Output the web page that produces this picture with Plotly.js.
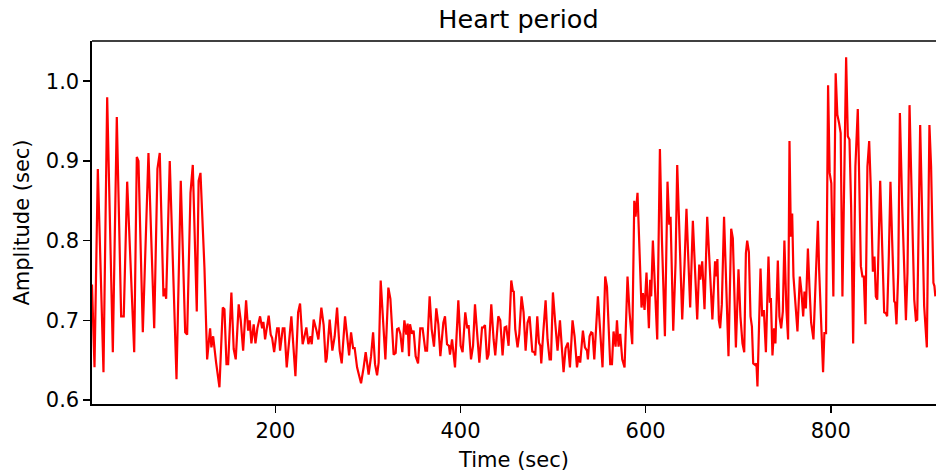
<!DOCTYPE html>
<html>
<head>
<meta charset="utf-8">
<script src="https://cdn.plot.ly/plotly-3.0.1.min.js"></script>
<style>
html,body{margin:0;padding:0;background:#fff;overflow:hidden;}
#chart{width:936px;height:472px;}
</style>
</head>
<body>
<div id="chart"></div>
<script>
const timeSec = [
1.8,4.5,8.1,14.2,18.2,24.3,28.6,33.3,36.1,39.8,47.4,50.2,52,56.7,62.8,69,72.5,75,79,80.4,81.9,85.8,93.1,97.7,102.5,104.6,108.2,110.7,115,117,119,
123.3,126.2,129.4,130.8,132.7,135.9,139.5,143.1,144.9,147.1,148.9,152.4,154.9,157.1,160.3,162.5,165.1,168.3,170.5,172.2,174,176.5,178.4,180.5,183.4,185.6,187,188.8,192.7,194.9,196.4,198.6,201.8,203.5,205,207.9,209.7,212.2,217.2,221.6,224.5,226.6,229.4,
231.4,233.4,235.6,237.8,239.2,241.3,244.2,246.4,249.6,252.1,254.3,255.4,258.6,261.5,264,266.6,269.4,271.6,275.2,277.4,279.6,281.7,283.9,285.6,288.2,289.9,292.5,295.3,297.5,300.7,303.3,305.5,307.6,309.8,311.5,313.7,316.3,318.8,322,324.2,327.7,329.9,331.4,333.1,335,337.1,339.3,341.4,342.8,344.3,
345.4,347.6,349.3,351.5,354.1,356.5,359,362,363.8,366.6,368.8,371.3,373.8,376,378.2,381.4,383.2,385.4,387.5,388.6,390.8,394,397.6,400.1,402.2,405.1,407.3,408.7,411.3,413.5,415.6,418.1,420.3,423.2,424.6,426.4,428.6,430.3,433.2,435.7,437.5,440.8,442.9,445.4,447.6,449.4,451.9,454.8,456.6,457.5,
459.1,461.6,463.5,465.9,468.1,470.3,472.4,474.6,476.1,477.5,479.7,480.7,482.9,484.7,486.2,487.2,489.4,491.9,494,496.2,497.7,499.8,502.3,504.8,507.4,508.8,511.3,513.5,516,518.2,521,523.2,525.8,527.5,529.3,532.2,534.4,536.6,537.6,539.4,541.2,542.6,544.5,548.4,550.9,553.4,556.3,558.2,561.7,563.6,565.3,567.5,569,570.7,572.5,
574.7,577.2,580.4,582.6,585.5,587.7,589.1,591.2,593.4,595.5,597,598.8,600.9,603.5,604.9,606,607.8,610,612.5,615.4,617.6,620.8,623.6,625.5,626.9,629.8,632.3,634.1,635.9,639.5,642,644.1,646,648.1,651,652.8,655.7,657.9,659,661.1,663.6,666.5,668.7,
672.1,675,676.5,677.5,679.1,680.5,682.3,684.7,687.3,689.5,692.4,694.2,697.5,700.3,702.4,704.6,706.5,708.3,709.7,711.5,713.3,714.8,716.2,718.3,719.7,720.8,724.1,725.9,727.7,729.9,732.7,734.2,735.3,737,738.8,740.2,742.8,744.5,746.4,748.2,749.9,752.1,753.9,755.4,756.9,758.3,759.7,761.6,764,766.6,768.3,770.2,771.6,773.1,775.3,777,778.8,781.3,
786.1,787.4,789.6,791.7,793.1,794.9,797.1,798.8,800.6,802.8,805.3,807.1,808.9,810.7,812.6,816.6,818.4,820.2,822,824.2,826.6,829.2,830.6,832.5,834.2,835.7,837.5,839.6,841.5,843.3,845.5,847.2,848.7,850.2,853.4,855.1,857.7,859.5,860.9,862.7,864.5,866.3,868.5,869.6,871,872.9,874.7,877.2,881.2,882.9,885.1,887.7,890.2,892,893.4,896.6,899.1,900.9,903.8,906.6,908.4,910.9,912,913
];
const heartPeriod = [
0.745,0.641,0.89,0.635,0.98,0.66,0.955,0.705,0.705,0.874,0.66,0.905,0.9,0.685,0.91,0.69,0.89,0.91,0.73,0.74,0.727,0.9,0.626,0.875,0.685,0.682,0.86,0.895,0.711,0.875,0.885,
0.766,0.651,0.69,0.666,0.68,0.647,0.616,0.716,0.714,0.645,0.645,0.735,0.664,0.651,0.72,0.70,0.662,0.725,0.687,0.70,0.671,0.695,0.671,0.69,0.705,0.69,0.698,0.676,0.706,0.682,0.678,0.66,0.69,0.69,0.662,0.69,0.69,0.641,0.705,0.63,0.71,0.721,0.67,
0.68,0.691,0.67,0.68,0.67,0.701,0.688,0.676,0.716,0.694,0.647,0.652,0.701,0.662,0.68,0.716,0.662,0.646,0.705,0.676,0.656,0.685,0.665,0.665,0.641,0.633,0.621,0.641,0.66,0.632,0.655,0.685,0.645,0.631,0.647,0.75,0.701,0.651,0.741,0.727,0.657,0.659,0.689,0.69,0.683,0.66,0.70,0.682,0.696,0.655,
0.695,0.683,0.687,0.655,0.646,0.69,0.69,0.662,0.662,0.73,0.689,0.667,0.715,0.695,0.655,0.697,0.705,0.67,0.668,0.657,0.676,0.641,0.725,0.668,0.66,0.71,0.69,0.694,0.651,0.668,0.72,0.676,0.647,0.691,0.691,0.694,0.651,0.657,0.72,0.676,0.656,0.705,0.70,0.656,0.691,0.692,0.668,0.75,0.736,0.737,
0.689,0.666,0.683,0.73,0.71,0.662,0.697,0.705,0.685,0.661,0.66,0.656,0.705,0.672,0.668,0.646,0.685,0.725,0.676,0.651,0.651,0.735,0.697,0.662,0.70,0.68,0.635,0.665,0.672,0.641,0.70,0.68,0.641,0.655,0.647,0.687,0.666,0.662,0.651,0.68,0.685,0.684,0.651,0.73,0.684,0.641,0.755,0.742,0.645,0.645,0.686,0.667,0.70,0.667,0.683,
0.651,0.641,0.755,0.71,0.67,0.85,0.83,0.86,0.772,0.716,0.734,0.713,0.76,0.69,0.751,0.73,0.80,0.749,0.676,0.915,0.80,0.68,0.874,0.82,0.83,0.687,0.772,0.895,0.835,0.701,0.77,0.84,0.78,0.716,0.825,0.77,0.701,0.77,0.751,0.774,0.714,0.83,0.784,
0.701,0.774,0.755,0.777,0.70,0.69,0.72,0.83,0.722,0.655,0.815,0.803,0.666,0.764,0.705,0.671,0.66,0.784,0.80,0.786,0.705,0.692,0.646,0.644,0.646,0.617,0.765,0.705,0.713,0.66,0.78,0.722,0.728,0.656,0.69,0.671,0.775,0.705,0.69,0.711,0.80,0.713,0.676,0.925,0.805,0.834,0.755,0.724,0.686,0.755,0.736,0.705,0.736,0.715,0.79,0.741,0.697,0.676,
0.825,0.764,0.692,0.635,0.684,0.684,0.995,0.885,0.872,0.73,1.01,0.958,0.948,0.935,0.73,1.03,0.931,0.927,0.843,0.671,0.893,0.965,0.885,0.768,0.755,0.755,0.695,0.893,0.925,0.864,0.761,0.78,0.73,0.726,0.875,0.801,0.71,0.709,0.705,0.78,0.874,0.801,0.724,0.722,0.695,0.76,0.96,0.843,0.70,0.76,0.97,0.843,0.726,0.70,0.701,0.945,0.793,0.718,0.666,0.945,0.893,0.747,0.743,0.73
];
const yTicks = [0.6, 0.7, 0.8, 0.9, 1.0];
const xTicks = [200, 400, 600, 800];

const trace = {
  x: timeSec, y: heartPeriod, type: 'scatter', mode: 'lines',
  line: {color: '#ff0000', width: 2.2, shape: 'linear'},
  hoverinfo: 'skip'
};
const axisFont = {family: 'DejaVu Sans', size: 21, color: '#000'};
const layout = {
  width: 936, height: 472,
  margin: {l: 92, r: 0, t: 41, b: 68, pad: 0},
  paper_bgcolor: '#fff', plot_bgcolor: '#fff',
  font: {family: 'DejaVu Sans', size: 21, color: '#000'},
  showlegend: false,
  title: {text: 'Heart period', font: {family: 'DejaVu Sans', size: 25.5, color: '#000'},
          x: 0.5053, xref: 'paper', xanchor: 'center', y: 0.94, yref: 'container', yanchor: 'bottom'},
  xaxis: {
    range: [1.8, 913.7], tickvals: xTicks, ticktext: xTicks.map(String),
    ticks: 'outside', ticklen: 7, tickwidth: 1.6, tickcolor: '#000',
    showline: true, linecolor: '#000', linewidth: 1.6, mirror: false,
    showgrid: false, zeroline: false, tickfont: axisFont,
    title: {text: 'Time (sec)', font: axisFont, standoff: 10}
  },
  yaxis: {
    range: [0.595, 1.0505], tickvals: yTicks, ticktext: yTicks.map(v => v.toFixed(1)),
    ticks: 'outside', ticklen: 7, tickwidth: 1.6, tickcolor: '#000',
    showline: true, linecolor: '#000', linewidth: 1.6, mirror: false,
    showgrid: false, zeroline: false, tickfont: axisFont,
    title: {text: 'Amplitude (sec)', font: axisFont, standoff: 10}
  },
  shapes: [{type: 'line', xref: 'paper', yref: 'paper', x0: 0, x1: 1, y0: 1, y1: 1,
            line: {color: '#000', width: 1.6}}]
};
Plotly.newPlot('chart', [trace], layout, {staticPlot: true, displayModeBar: false});
</script>
</body>
</html>
